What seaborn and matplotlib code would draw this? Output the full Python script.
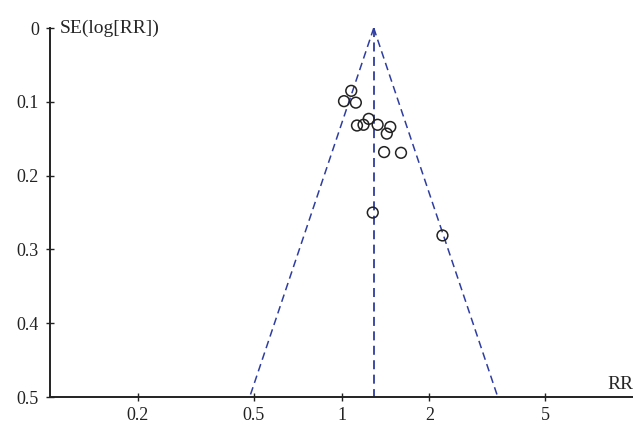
import numpy as np
import pandas as pd
import matplotlib
matplotlib.use("Agg")
import matplotlib.pyplot as plt
import seaborn as sns

# study estimates
rr = [1.08, 1.02, 1.12, 1.24, 1.13, 1.19, 1.33, 1.47, 1.43, 1.40, 1.60, 1.28, 2.22]
se = [0.085, 0.099, 0.101, 0.123, 0.132, 0.131, 0.131, 0.134, 0.143, 0.168, 0.169, 0.250, 0.281]
pooled_rr = 1.29
x_ticks = [0.2, 0.5, 1, 2, 5]
y_ticks = [0, 0.1, 0.2, 0.3, 0.4, 0.5]

df = pd.DataFrame({"RR": rr, "SE": se})

sns.set_style("white")
plt.rcParams["font.family"] = ["Liberation Serif", "DejaVu Serif"]

fig = plt.figure(figsize=(6.33, 4.26), dpi=100)
ax = fig.add_axes([0.079, 0.068, 0.921, 0.866])

# funnel (pseudo 95% limits) and pooled estimate
se_line = np.array([0.0, 0.5])
line_color = "#2e3da0"
ax.plot(pooled_rr * np.exp(-1.96 * se_line), se_line, color=line_color, ls=(0, (5, 3)), lw=1.1)
ax.plot(pooled_rr * np.exp(1.96 * se_line), se_line, color=line_color, ls=(0, (5, 3)), lw=1.1)
ax.plot([pooled_rr, pooled_rr], [0, 0.5], color=line_color, ls=(0, (5, 3)), lw=1.3)

sns.scatterplot(data=df, x="RR", y="SE", ax=ax, marker="o", s=60,
                facecolor="none", edgecolor="#222222", linewidth=1.1, zorder=3)

ax.set_xscale("log")
ax.set_xlim(0.1, 10)
ax.set_ylim(0.5, 0)
ax.set_xticks(x_ticks)
ax.set_xticklabels([str(t) for t in x_ticks])
ax.minorticks_off()
ax.set_yticks(y_ticks)
ax.set_yticklabels(["0", "0.1", "0.2", "0.3", "0.4", "0.5"])

for s in ["top", "right"]:
    ax.spines[s].set_visible(False)
for s in ["left", "bottom"]:
    ax.spines[s].set_color("#222222")
    ax.spines[s].set_linewidth(1.4)

ax.tick_params(axis="both", which="major", direction="inout", length=6, width=1,
               colors="#222222", labelsize=13, bottom=True, left=True)
ax.tick_params(axis="y", pad=5)
ax.tick_params(axis="x", pad=4)
ax.set_xlabel("")
ax.set_ylabel("")

ax.text(0.108, 0.0, "SE(log[RR])", fontsize=14, va="center", ha="left")
ax.text(10, 0.494, "RR", fontsize=14, va="bottom", ha="right")

fig.savefig("out.png", dpi=100)
